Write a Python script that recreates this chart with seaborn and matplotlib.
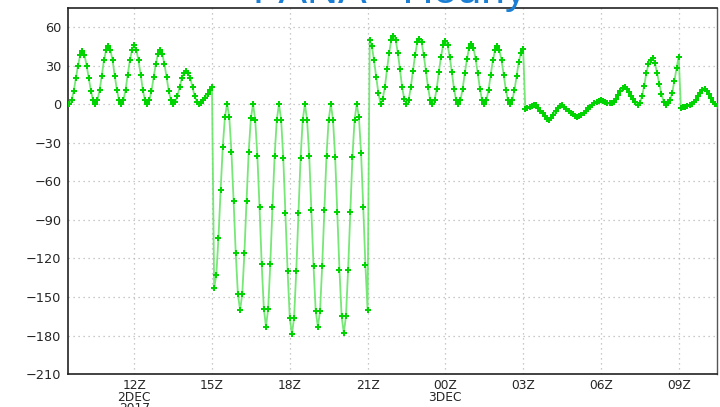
import numpy as np
import pandas as pd
import matplotlib
matplotlib.use("Agg")
import matplotlib.pyplot as plt
import seaborn as sns
from matplotlib.ticker import MultipleLocator

# ---- data: 5-minute values starting 09:30Z 2 Dec 2017 ----
start_hour = 9.5          # hours since 00Z 2 Dec 2017
step_hours = 5.0 / 60.0

seg_a = [0, 3, 10, 20, 30, 38, 41,
         38, 30, 20, 10, 3, 0,
         3, 11, 22, 34, 42, 45,
         42, 34, 22, 11, 3, 0,
         3, 11, 23, 34, 42, 46,
         42, 34, 23, 11, 3, 0,
         3, 10, 21, 31, 39, 42,
         39, 31, 21, 10, 3, 0,
         2, 6, 13, 20, 24, 26,
         24, 20, 13, 6, 2, 0,
         1, 3, 5, 8, 11, 13]

seg_b = [-143,
         -133, -104, -67, -33, -10, 0,
         -10, -37, -75, -116, -148, -160,
         -148, -116, -75, -37, -11, 0,
         -12, -40, -80, -124, -159, -173,
         -159, -124, -80, -40, -12, 0,
         -12, -42, -85, -130, -166, -179,
         -166, -130, -85, -42, -12, 0,
         -12, -40, -82, -126, -161, -173,
         -161, -126, -82, -40, -12, 0,
         -12, -41, -84, -129, -165, -178,
         -165, -129, -84, -41, -12, 0,
         -10, -38, -80, -125, -160]

seg_c = [50, 45, 34, 21, 9, 0,
         4, 13, 27, 40, 50, 53,
         50, 40, 27, 13, 4, 0,
         3, 13, 26, 38, 48, 51,
         48, 38, 26, 13, 3, 0,
         3, 12, 25, 37, 46, 49,
         46, 37, 25, 12, 3, 0,
         3, 12, 24, 35, 44, 47,
         44, 35, 24, 12, 3, 0,
         3, 11, 23, 34, 42, 45,
         42, 34, 23, 11, 3, 0,
         3, 11, 22, 33, 40, 43]

seg_d = [-4, -3, -2, -1.5, -1, -1, -3, -5, -7, -9.5, -11.5, -12,
         -10.5, -8.5, -5.5, -3, -1.5, -1, -2, -3.5, -5, -7, -8, -9.5,
         -10, -9.5, -8.5, -7, -5, -3, -2, -1, 0.5, 1.5, 2.5, 3,
         2.5, 1.5, 0.5, 0.5, 1, 2, 4, 7, 10, 12.5, 13.5, 12,
         9.5, 6, 4, 2, -0.5, 1, 6, 14, 24, 31, 34.5, 35.5,
         32, 24, 16, 8, 2, -0.5, 0.5, 3, 9, 18, 28, 37]

seg_e = [-3, -2.5, -2, -1.5, -1, 0, 1.5, 3, 6, 9, 11, 11.5,
         10, 7.5, 4.5, 2, 0, -1.5]

values = seg_a + seg_b + seg_c + seg_d + seg_e
hours = start_hour + step_hours * np.arange(len(values))
df = pd.DataFrame({"hour": hours, "value": values})

tick_hours = [12, 15, 18, 21, 24, 27, 30, 33]
tick_labels = ["12Z\n2DEC\n2017", "15Z", "18Z", "21Z", "00Z\n3DEC", "03Z", "06Z", "09Z"]
y_ticks = list(range(-210, 61, 30))
title_text = "PANA - Hourly"

# ---- plot ----
sns.set_style("white")
plt.rcParams["font.family"] = ["DejaVu Sans"]

fig = plt.figure(figsize=(7.2, 4.07), dpi=100)
ax = fig.add_axes([0.0949, 0.0806, 0.9007, 0.899])

sns.lineplot(data=df, x="hour", y="value", ax=ax, color="#5fe35f",
             linewidth=1.3, alpha=0.85, zorder=3)
sns.scatterplot(data=df, x="hour", y="value", ax=ax, color="#00d400",
                marker="P", s=24, linewidth=0, zorder=4, legend=False)

ax.set_xlim(9.46, 34.47)
ax.set_ylim(-210, 74.5)
ax.set_xticks(tick_hours)
ax.set_xticklabels(tick_labels, fontsize=8.8, linespacing=0.82)
ax.set_yticks(y_ticks)
ax.set_yticklabels([f"{v}".replace("-", "\u2212") for v in y_ticks], fontsize=9.3)
ax.xaxis.set_minor_locator(MultipleLocator(0.25))
ax.tick_params(axis="both", which="major", direction="out", length=3.5,
               width=1, color="#333333", pad=1.5)
ax.tick_params(axis="x", which="major", pad=0.3)
ax.tick_params(axis="x", which="minor", direction="out", length=1.8,
               width=0.6, color="#777777")
ax.set_xlabel("")
ax.set_ylabel("")

ax.grid(True, which="major", color="#b8b8b8", linestyle=(0, (1, 3)), linewidth=0.9)
for side, sp in ax.spines.items():
    sp.set_visible(True)
    sp.set_color("#222222")
    sp.set_linewidth(1.2)
ax.spines["right"].set_color("#555555")
ax.spines["right"].set_linewidth(1.0)

fig.text(0.542, 0.992, title_text, color="#1a7fd4", fontsize=31,
         ha="center", va="baseline", family=["Liberation Sans", "DejaVu Sans"])

fig.savefig("out.png", dpi=100)
